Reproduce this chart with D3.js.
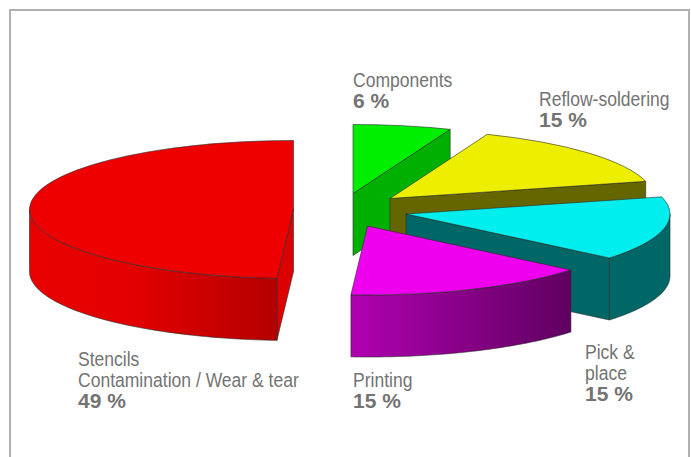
<!DOCTYPE html>
<html>
<head>
<meta charset="utf-8">
<script src="https://cdn.jsdelivr.net/npm/d3@7/dist/d3.min.js"></script>
<style>
html, body { margin: 0; padding: 0; background: #fff; }
svg { display: block; }
text { font-family: "Liberation Sans", Arial, sans-serif; fill: #737373; }
</style>
</head>
<body>
<script>
// Defect sources, clockwise from twelve o'clock
const categories = ["Components", "Reflow-soldering", "Pick & place", "Printing", "Stencils"];
const shares = [6, 15, 15, 15, 49];

// Colours per slice: top face, cut face, outer wall (left and right end of the shading)
const topColors = ["#00ee00", "#eeee00", "#00eeee", "#ee00ee", "#ee0000"];
const faceColors = ["#00b000", "#666600", "#006666", "#660066", "#dd0000"];
const wallLeft = ["#00b000", "#666600", "#006666", "#b000b0", "#e80000"];
const wallRight = ["#00b000", "#666600", "#006666", "#600060", "#b40000"];

// Where each slice is pulled out to, as the position of its apex
const apexX = [353, 390, 406, 367.5, 293.5];
const apexY = [193.5, 198.5, 214, 226, 209.5];

// Label blocks: left edge, first baseline, wrapped name lines
const labelX = [353, 539, 585, 353, 78];
const labelY = [87, 106, 359, 387, 366];
const labelLines = [
  ["Components"],
  ["Reflow-soldering"],
  ["Pick &", "place"],
  ["Printing"],
  ["Stencils", "Contamination / Wear & tear"]
];

const width = 691, height = 457;
const radius = 264, tilt = 0.2614, depth = 62;
const nameCondense = 0.855;

const svg = d3.select("body").append("svg")
  .attr("width", width).attr("height", height);

// Open-bottomed grey frame
svg.append("path")
  .attr("d", d3.line()([[10, height], [10, 10], [689, 10], [689, height]]))
  .attr("fill", "none").attr("stroke", "#b0b0b0").attr("stroke-width", 2);

const defs = svg.append("defs");
const slices = d3.pie().sort(null).startAngle(0).endAngle(2 * Math.PI)(shares);

// Project a pie angle (0 = up, clockwise) onto the tilted disc
const rim = a => [radius * Math.sin(a), -radius * Math.cos(a) * tilt];

const arcTop = d3.arc().innerRadius(0).outerRadius(radius);
const line = d3.line();
const edgeColor = "#2a2a2a", edgeWidth = 0.6;

slices.forEach((s, i) => {
  const g = svg.append("g").attr("transform", `translate(${apexX[i]},${apexY[i]})`);
  const a0 = s.startAngle, a1 = s.endAngle;

  // Cut faces whose outward normal turns towards the viewer
  const cuts = [];
  if (-Math.sin(a0) > 1e-6) cuts.push(a0);
  if (Math.sin(a1) > 1e-6) cuts.push(a1);
  cuts.forEach(a => {
    const [x, y] = rim(a);
    g.append("path")
      .attr("d", line([[0, 0], [x, y], [x, y + depth], [0, depth]]) + "Z")
      .attr("fill", faceColors[i])
      .attr("stroke", edgeColor).attr("stroke-width", edgeWidth);
  });

  // Outer wall: the part of the rim on the near side of the disc
  const from = Math.max(a0, Math.PI / 2), to = Math.min(a1, 1.5 * Math.PI);
  if (to > from) {
    const steps = d3.range(0, 61).map(k => from + (to - from) * k / 60);
    const upper = steps.map(rim);
    const lower = steps.slice().reverse().map(a => {
      const [x, y] = rim(a);
      return [x, y + depth];
    });
    const id = `wall-${i}`;
    const grad = defs.append("linearGradient").attr("id", id);
    const stops = i === 4
      ? [[0, wallLeft[i]], [0.4, "#e40000"], [1, wallRight[i]]]
      : [[0, wallLeft[i]], [1, wallRight[i]]];
    stops.forEach(([o, c]) => grad.append("stop").attr("offset", o).attr("stop-color", c));
    g.append("path")
      .attr("d", line(upper.concat(lower)) + "Z")
      .attr("fill", `url(#${id})`)
      .attr("stroke", edgeColor).attr("stroke-width", edgeWidth);
  }

  // Top face, drawn as a plain arc squashed by the tilt
  g.append("path")
    .attr("transform", `scale(1,${tilt})`)
    .attr("d", arcTop(s))
    .attr("fill", topColors[i])
    .attr("stroke", edgeColor).attr("stroke-width", edgeWidth)
    .attr("vector-effect", "non-scaling-stroke");
});

// Labels: narrowed regular name lines, then the bold share
categories.forEach((c, i) => {
  const rows = labelLines[i];
  rows.forEach((l, k) => {
    const t = svg.append("text")
      .attr("x", labelX[i]).attr("y", labelY[i] + k * 21)
      .attr("font-size", 20.5).text(l);
    t.attr("textLength", t.node().getComputedTextLength() * nameCondense)
      .attr("lengthAdjust", "spacingAndGlyphs");
  });
  svg.append("text")
    .attr("x", labelX[i]).attr("y", labelY[i] + rows.length * 21)
    .attr("font-size", 21).attr("font-weight", "bold")
    .text(`${shares[i]} %`);
});
</script>
</body>
</html>
